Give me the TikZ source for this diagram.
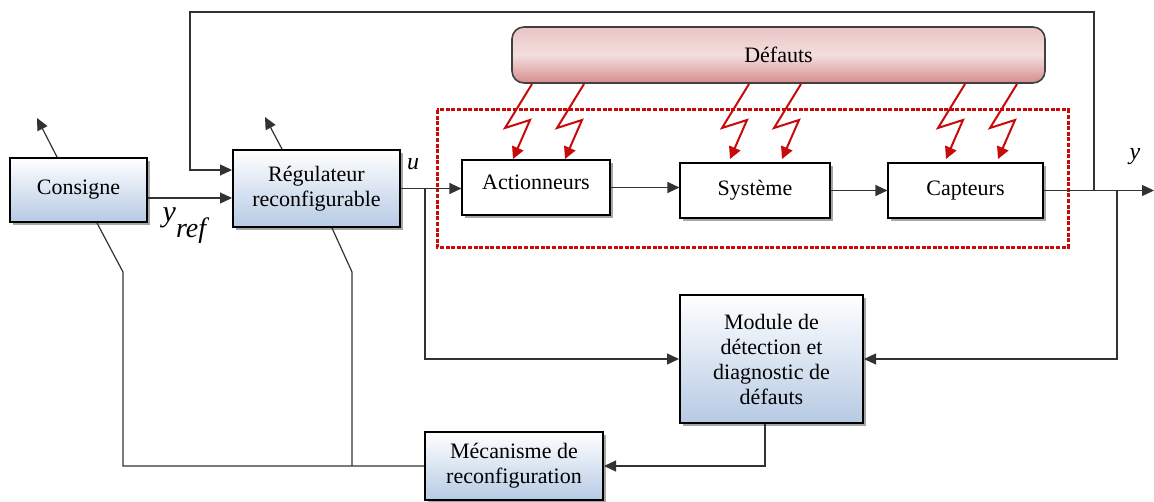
\documentclass[tikz,border=0pt]{standalone}
\usepackage{fontspec}
\setmainfont{Liberation Serif}
\usetikzlibrary{arrows.meta,shadows,calc}
\definecolor{bluebot}{RGB}{182,202,228}
\definecolor{deftop}{RGB}{234,196,196}
\definecolor{defbot}{RGB}{214,140,140}
\definecolor{deflight}{RGB}{244,222,222}
\definecolor{boltred}{RGB}{200,10,10}
\definecolor{linec}{RGB}{50,50,50}
\begin{document}
\begin{tikzpicture}[x=0.5pt,y=-0.5pt,
  font=\fontsize{11}{12.5}\selectfont,
  bluebox/.style={draw=black,line width=1pt,top color=white,bottom color=bluebot,
    align=center,inner sep=0pt,
    drop shadow={shadow xshift=1.5pt,shadow yshift=-1.5pt,fill=gray!70,opacity=1}},
  whitebox/.style={draw=black,line width=0.6pt,fill=white,align=center,inner sep=0pt,
    drop shadow={shadow xshift=1.5pt,shadow yshift=-1.5pt,fill=gray!70,opacity=1}},
  conn/.style={draw=linec,line width=0.6pt},
  arr/.style={conn,-{Triangle[length=6pt,width=5.5pt]}},
  bolt/.style={draw=boltred,line width=1pt,-{Triangle[length=6pt,width=6pt]}},
]
\useasboundingbox (0,0) rectangle (1154,502);

% Defauts
\node[draw=black!75,line width=0.8pt,rounded corners=6pt,
  top color=deftop,bottom color=defbot,middle color=deflight,
  minimum width=266.5pt,minimum height=28pt,inner sep=0pt] (def) at (778.5,55) {Défauts};

% dotted red frame
\draw[boltred,line width=1.5pt,dash pattern=on 2pt off 0.8pt] (437,110) rectangle (1068,247);

% blocks
\node[bluebox,minimum width=68.5pt,minimum height=32pt] (cons) at (78.5,190) {Consigne};
\node[bluebox,minimum width=83.5pt,minimum height=38.5pt] (reg) at (316.5,188.5) {Régulateur\\reconfigurable};
\node[whitebox,minimum width=74pt,minimum height=27.5pt] (act) at (536,187.5) {};
\node[whitebox,minimum width=75pt,minimum height=27.5pt] (sys) at (755,190.5) {Système};
\node[whitebox,minimum width=77.5pt,minimum height=27.5pt] (cap) at (965.5,190.5) {Capteurs};
\node[inner sep=0pt] (acttxt) at (536,182) {Actionneurs};
\node[bluebox,minimum width=91.5pt,minimum height=64pt] (mod) at (771.5,359) {Module de\\détection et\\diagnostic de\\défauts};
\node[bluebox,minimum width=89pt,minimum height=34pt] (mec) at (514,466) {Mécanisme de\\reconfiguration};

% labels
\node[font=\fontsize{12}{12}\selectfont\itshape] (lu) at (413,164) {u};
\node[font=\fontsize{12}{12}\selectfont\itshape] (ly) at (1135,157) {y};
\node[inner sep=0pt] (lyref) at (186,226) {{\fontsize{15}{15}\selectfont\textit{y}}\raisebox{-8pt}{\fontsize{14}{14}\selectfont\textit{ref}}};

% coordinates
\coordinate (uB) at (425,188.5);
\coordinate (yout) at (1154,190.5);
\coordinate (fbA) at (1094,190.5);
\coordinate (fbB) at (1117,190.5);
\coordinate (top1) at (1094,12);
\coordinate (top2) at (190,12);
\coordinate (consUp) at (37,118);
\coordinate (regUp) at (265,117);
\coordinate (consK) at (123,272);
\coordinate (regK) at (352,272);

% main chain
\draw[arr] ([yshift=-4pt]cons.east) -- ([yshift=-4pt]cons.east -| reg.west);
\draw[arr] (reg.east) -- (reg.east -| act.west);
\draw[arr] (act.east) -- (act.east -| sys.west);
\draw[arr] (sys.east) -- (sys.east -| cap.west);
\draw[arr] (cap.east) -- (yout);

% feedback top
\draw[arr] (fbA) -- (top1) -- (top2) -- ([yshift=9.25pt]reg.west -| top2) -- ([yshift=9.25pt]reg.west);
% y to module
\draw[arr] (fbB) |- (mod.east);
% u to module
\draw[arr] (uB) |- (mod.west);
% module to mecanisme
\draw[arr] ([xshift=-3.25pt]mod.south) |- (mec.east);

% outgoing arrows of cons and reg
\draw[arr] ([xshift=-10.75pt]cons.north) -- (consUp);
\draw[arr] ([xshift=-17.25pt]reg.north) -- (regUp);

% lines from mecanisme
\draw[conn] ([xshift=9.25pt]cons.south) -- (consK) |- (mec.west);
\draw[conn] ([xshift=7.75pt]reg.south) -- (regK) -- (regK |- mec.west);

% lightning bolts
\foreach \bx in {532,584,749,801,965,1017}{
  \draw[bolt] (\bx,84) -- ++(-27,44) -- ++(25,-8) -- ++(-17,39);
}
\end{tikzpicture}
\end{document}
